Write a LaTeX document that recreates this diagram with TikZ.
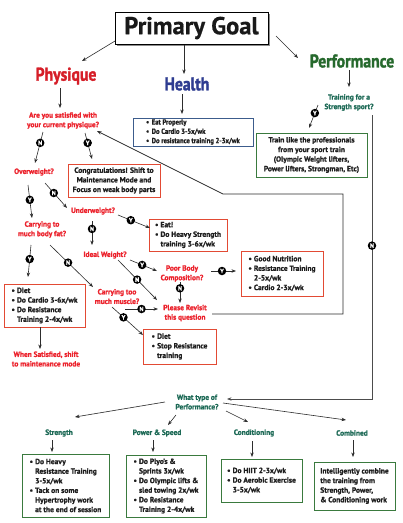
\documentclass[tikz,border=0pt]{standalone}
\usepackage{fontspec}
\setmainfont{PT Sans}[BoldFeatures={FakeBold=1.2}]
\newfontfamily\qfont{PT Sans}[FakeStretch=0.97, BoldFeatures={FakeBold=1.2}]
\newfontfamily\hbfont{PT Sans}[FakeStretch=0.9, BoldFeatures={FakeBold=1.2}]
\newfontfamily\headfont{PT Sans}[FakeStretch=0.85, BoldFeatures={FakeBold=1.5}]
\newfontfamily\titlefont{PT Sans}[BoldFeatures={FakeBold=0.6}]
\usetikzlibrary{calc,arrows.meta,shadows}
\definecolor{qred}{RGB}{236,34,44}
\definecolor{physred}{RGB}{214,30,40}
\definecolor{hblue}{RGB}{46,60,145}
\definecolor{pgreen}{RGB}{38,105,45}
\definecolor{qteal}{RGB}{28,105,85}
\definecolor{bred}{RGB}{226,74,52}
\definecolor{bgreen}{RGB}{58,122,62}
\definecolor{bblue}{RGB}{60,92,140}
\definecolor{boxtext}{RGB}{30,30,30}
\definecolor{lin}{RGB}{45,45,45}
\newcommand{\bu}{\makebox[5.5pt][l]{\textbullet}}
\newcommand{\ct}{\hspace*{5.5pt}}
\tikzset{
  q/.style={font=\qfont\bfseries\fontsize{7.6}{9.5}\selectfont, text=qred, align=center, inner sep=1pt},
  tq/.style={font=\qfont\bfseries\fontsize{7.6}{9.5}\selectfont, text=qteal, align=center, inner sep=1pt},
  head/.style={font=\headfont\bfseries\fontsize{18.5}{20}\selectfont, inner sep=0pt},
  box/.style={draw, line width=0.9pt, fill=white, align=left, text=boxtext,
    font=\bfseries\fontsize{7.5}{9.6}\selectfont, inner sep=0pt,
    general shadow={fill=black!22, shadow xshift=0.9pt, shadow yshift=-0.9pt}},
  rbox/.style={box, draw=bred},
  gbox/.style={box, draw=bgreen},
  bbox/.style={box, draw=bblue, font=\hbfont\bfseries\fontsize{7.4}{9.3}\selectfont},
  sz/.style 2 args={minimum width=#1, minimum height=#2},
  pgbox/.style={draw=black, line width=1pt, fill=white, minimum width=153, minimum height=32,
    font=\titlefont\bfseries\fontsize{24.5}{26}\selectfont, text=black!90,
    general shadow={fill=black!45, shadow xshift=1.6pt, shadow yshift=-1.6pt}},
  arr/.style={draw=lin, line width=0.6pt, -{Stealth[length=4.5pt,width=3.4pt]}},
  badge/.style={circle, fill=black, text=white, font=\bfseries\fontsize{6.2}{6}\selectfont,
    inner sep=0pt, minimum size=8.5pt},
}
\begin{document}
\begin{tikzpicture}[x=1pt,y=-1pt]
\fill[white] (0,0) rectangle (403,523);
\useasboundingbox (0,0) rectangle (403,523);

% nodes
\node[pgbox] (pg) at (191.5,28) {Primary Goal};
\node[head,text=physred] (phys) at (66,76) {Physique};
\node[head,text=hblue] (health) at (187,84) {Health};
\node[head,text=pgreen] (perf) at (352,61) {Performance};
\node[tq] (train) at (349,102.5) {Training for a\\Strength sport?};
\node[gbox,sz={111}{44},align=center] (pro) at (311.5,155) {Train like the professionals\\from your sport train\\(Olympic Weight lifters,\\Power lifters, Strongman, Etc)};
\node[bbox,sz={120}{28}] (hbox) at (193,132) {\bu Eat Properly\\\bu Do Cardio 3-5x/wk\\\bu Do resistance training 2-3x/wk};
\node[q] (sat) at (63,120.5) {Are you satisfied with\\your current physique?};
\node[rbox,sz={92}{33},align=center] (congr) at (114,180.5) {Congratulations! Shift to\\Maintenance Mode and\\Focus on weak body parts};
\node[q] (over) at (34,172) {Overweight?};
\node[q] (under) at (93,211) {Underweight?};
\node[rbox,sz={78}{32}] (eat) at (188,235) {\bu Eat!\\\bu Do Heavy Strength\\\ct training 3-6x/wk};
\node[q] (fat) at (42,229.5) {Carrying to\\much body fat?};
\node[q] (ideal) at (105,255) {Ideal Weight?};
\node[q] (poor) at (182,273.5) {Poor Body\\Composition?};
\node[rbox,sz={82}{45}] (gn) at (282,273.5) {\bu Good Nutrition\\\bu Resistance Training\\\ct 2-5x/wk\\\bu Cardio 2-3x/wk};
\node[q] (revisit) at (185,313) {Please Revisit\\this question};
\node[q] (musc) at (117,296.5) {Carrying too\\much muscle?};
\node[rbox,sz={81}{43}] (diet) at (44.5,305.5) {\bu Diet\\\bu Do Cardio 3-6x/wk\\\bu Do Resistance\\\ct Training 2-4x/wk};
\node[q] (when) at (46,359) {When Satisfied, shift\\to maintenance mode};
\node[rbox,sz={73}{35}] (stop) at (179.5,346.5) {\bu Diet\\\bu Stop Resistance\\\ct training};
\node[tq] (what) at (197,402) {What type of\\Performance?};
\node[tq] (str) at (59,433) {Strength};
\node[tq] (pow) at (157,433) {Power \& Speed};
\node[tq] (cond) at (254,433) {Conditioning};
\node[tq] (comb) at (352,433) {Combined};
\node[gbox,sz={87}{63}] (sbox) at (65.5,485.5) {\bu Do Heavy\\\ct Resistance Training\\\ct 3-5x/wk\\\bu Tack on some\\\ct Hypertrophy work\\\ct at the end of session};
\node[gbox,sz={80}{62}] (pbox) at (166,486) {\bu Do Plyo's \&\\\ct Sprints 3x/wk\\\bu Do Olympic lifts \&\\\ct sled towing 2x/wk\\\bu Do Resistance\\\ct Training 2-4x/wk};
\node[gbox,sz={81}{43}] (cbox) at (261.5,480.5) {\bu Do HIIT 2-3x/wk\\\bu Do Aerobic Exercise\\\ct 3-5x/wk};
\node[gbox,sz={81}{48}] (mbox) at (354.5,486) {Intelligently combine\\the training from\\Strength, Power,\\\& Conditioning work};

% connectors
\draw[arr] ($(pg)+(-76.5,13)$) -- ($(phys)+(16,-15)$);
\draw[arr] ($(pg)+(-7.5,17)$) -- ($(health)+(-3,-10)$);
\draw[arr] ($(pg)+(84.5,8)$) -- ($(perf)+(-54,-3)$);
\draw[arr] ($(phys)+(-6,12)$) -- ($(sat)+(-3,-12.5)$);
\draw[arr] ($(health)+(-5,10)$) -- ($(hbox)+(-11,-18)$);
\draw[arr] ($(perf)+(-3,9)$) -- ($(train)+(0,-15.5)$);
\draw[arr] ($(train)+(-31,2.5)$) -- node[badge,pos=0.35]{Y} ($(pro)+(-2.5,-27)$);
\draw[arr,line width=1pt,draw=black!70] ($(train)+(23,12.5)$) |- node[badge,pos=0.23]{N} ($(what)+(30,-3)$);
\draw[arr] ($(sat)+(-20,11.5)$) -- node[badge,pos=0.35]{N} ($(over)+(1,-9)$);
\draw[arr] ($(sat)+(22,12.5)$) -- node[badge,pos=0.38]{Y} ($(congr)+(-22,-21.5)$);
\draw[arr,line width=0.8pt] ($(revisit)+(27,1)$) -| ++(131,-120) -- ++(-120,0) -- ($(sat)+(34,10.5)$);
\draw[arr] ($(over)+(-6,13)$) -- node[badge,pos=0.45]{Y} ($(fat)+(-10,-11.5)$);
\draw[arr] ($(over)+(11,11)$) -- node[badge,pos=0.4]{N} ($(under)+(-26,-3)$);
\draw[arr] ($(under)+(25,4)$) -- node[badge,pos=0.4]{Y} ($(eat)+(-38,-7)$);
\draw[arr] ($(under)+(-1,10)$) -- node[badge,pos=0.33]{N} ($(ideal)+(-13,-10)$);
\draw[arr] ($(fat)+(-11,15.5)$) -- node[badge,pos=0.44]{Y} ($(diet)+(-16.5,-28.5)$);
\draw[arr] ($(fat)+(8,15.5)$) -- node[badge,pos=0.42]{N} ($(musc)+(-24,-9.5)$);
\draw[arr] ($(diet)+(-4.5,21.5)$) -- ($(when)+(-6,-10)$);
\draw[arr] ($(ideal)+(25,5)$) -- node[badge,pos=0.45]{Y} ($(poor)+(-25,-2.5)$);
\draw[arr] ($(ideal)+(13,5)$) -- node[badge,pos=0.49]{N} ($(revisit)+(-28,-13)$);
\draw[arr] ($(poor)+(29,-2.5)$) -- node[badge,pos=0.44]{Y} ($(gn)+(-46,-2.5)$);
\draw[arr] ($(poor)+(-2,8.5)$) -- node[badge,pos=0.3]{N} ($(revisit)+(-5,-10)$);
\draw[arr] ($(musc)+(8,12.5)$) -- node[badge,pos=0.5]{N} ($(revisit)+(-27,-4)$);
\draw[arr] ($(musc)+(-5,10.5)$) -- node[badge,pos=0.37]{Y} ($(stop)+(-36.5,-11.5)$);
\draw[arr] ($(what)+(-32,0)$) -- ($(str)+(16,-16)$);
\draw[arr] ($(what)+(-21,13)$) -- ($(pow)+(11,-8)$);
\draw[arr] ($(what)+(29,9)$) -- ($(cond)+(-6,-11)$);
\draw[arr] ($(what)+(26,1)$) -- ($(comb)+(-6,-13)$);
\draw[arr] ($(str)+(-7,7)$) -- ($(sbox)+(-13.5,-33.5)$);
\draw[arr] ($(pow)+(-4,7)$) -- ($(pbox)+(-13,-34)$);
\draw[arr] ($(cond)+(-2,8)$) -- ($(cbox)+(-9.5,-23.5)$);
\draw[arr] ($(comb)+(1,7)$) -- ($(mbox)+(-1.5,-29)$);
\end{tikzpicture}
\end{document}
